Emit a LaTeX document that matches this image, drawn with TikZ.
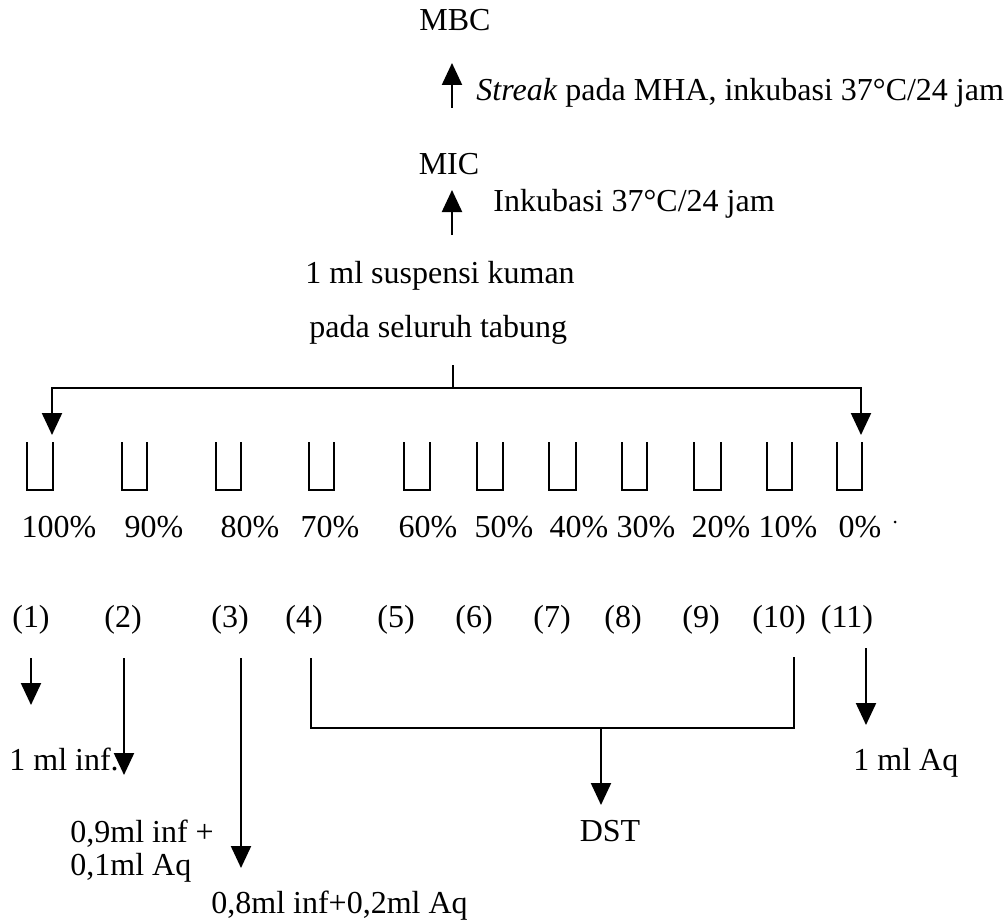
\documentclass[tikz,border=0pt]{standalone}
\usepackage{fontspec}
\setmainfont{Liberation Serif}
\usetikzlibrary{arrows.meta}
\begin{document}
\begin{tikzpicture}[x=0.5pt,y=-0.5pt,
  txt/.style={inner sep=0pt,font=\fontsize{16}{19}\selectfont},
  ln/.style={line width=1.1pt},
  arr/.style={line width=1.1pt,-{Triangle[width=10pt,length=11pt]}},
  tubeline/.style={line width=1.1pt}]
\useasboundingbox (0,0) rectangle (1007,920);
\fill[white] (0,0) rectangle (1007,920);

% top texts
\node[txt,anchor=base] (mbc) at (455,31) {MBC};
\node[txt,anchor=base west] (streak) at (476,101) {\textit{Streak} pada MHA, inkubasi 37°C/24 jam};
\node[txt,anchor=base] (mic) at (449,175) {MIC};
\node[txt,anchor=base west] (inkub) at (493,212) {Inkubasi 37°C/24 jam};
\node[txt,anchor=base west] (susp1) at (305,283) {1 ml suspensi kuman};
\node[txt,anchor=base west] (susp2) at (309,337) {pada seluruh tabung};

\coordinate (a1s) at (452,108); \coordinate (a1e) at (452,63);
\coordinate (a2s) at (452,235); \coordinate (a2e) at (452,190);
\draw[arr] (a1s) -- (a1e);
\draw[arr] (a2s) -- (a2e);

% distribution
\coordinate (stemtop) at (453,365);
\coordinate (stembot) at (453,388);
\coordinate (lt) at (52,435);
\coordinate (rt) at (861,435);
\draw[ln] (stemtop) -- (stembot);
\draw[arr] (stembot) -| (lt);
\draw[arr] (stembot) -| (rt);

% tubes
\foreach \l/\r in {27/53,122/147,216/241,309/334,404/430,477/503,549/576,622/647,694/721,767/792,837/862}
  \draw[tubeline] (\l,442) |- (\r,490) -- (\r,442);

% percentages
\foreach \x/\t [count=\i] in {59/100,154/90,250/80,330/70,428/60,504/50,579/40,646/30,721/20,788/10,860/0}
  \node[txt,anchor=base] (p\i) at (\x,537) {\t\%};
\fill (895,522) circle (1.5);

% numbers
\foreach \x [count=\i] in {31,123,230,304,396,474,552,623,701,779,847}
  \node[txt,anchor=base] (n\i) at (\x,627) {(\i)};

% lower arrows
\node[txt,anchor=base west] (inf1) at (9,770) {1 ml inf.};
\node[txt,anchor=base west] (inf2a) at (70,842) {0,9ml inf +};
\node[txt,anchor=base west] (inf2b) at (70,875) {0,1ml Aq};
\node[txt,anchor=base west] (inf3) at (211,913) {0,8ml inf+0,2ml Aq};
\node[txt,anchor=base] (dst) at (610,841) {DST};
\node[txt,anchor=base west] (aq) at (853,770) {1 ml Aq};

\coordinate (b1s) at (31,658);  \coordinate (b1e) at (31,705);
\coordinate (b2s) at (124,658); \coordinate (b2e) at (124,775);
\coordinate (b3s) at (241,658); \coordinate (b3e) at (241,868);
\coordinate (b11s) at (866,648); \coordinate (b11e) at (866,725);
\draw[arr] (b1s) -- (b1e);
\draw[arr] (b2s) -- (b2e);
\draw[arr] (b3s) -- (b3e);
\draw[arr] (b11s) -- (b11e);

\coordinate (k4) at (311,658);
\coordinate (k10) at (794,657);
\coordinate (kmid) at (601,728);
\coordinate (kdst) at (601,805);
\draw[ln] (k4) -- (311,728) -- (794,728) -- (k10);
\draw[arr] (kmid) -- (kdst);
\end{tikzpicture}
\end{document}
